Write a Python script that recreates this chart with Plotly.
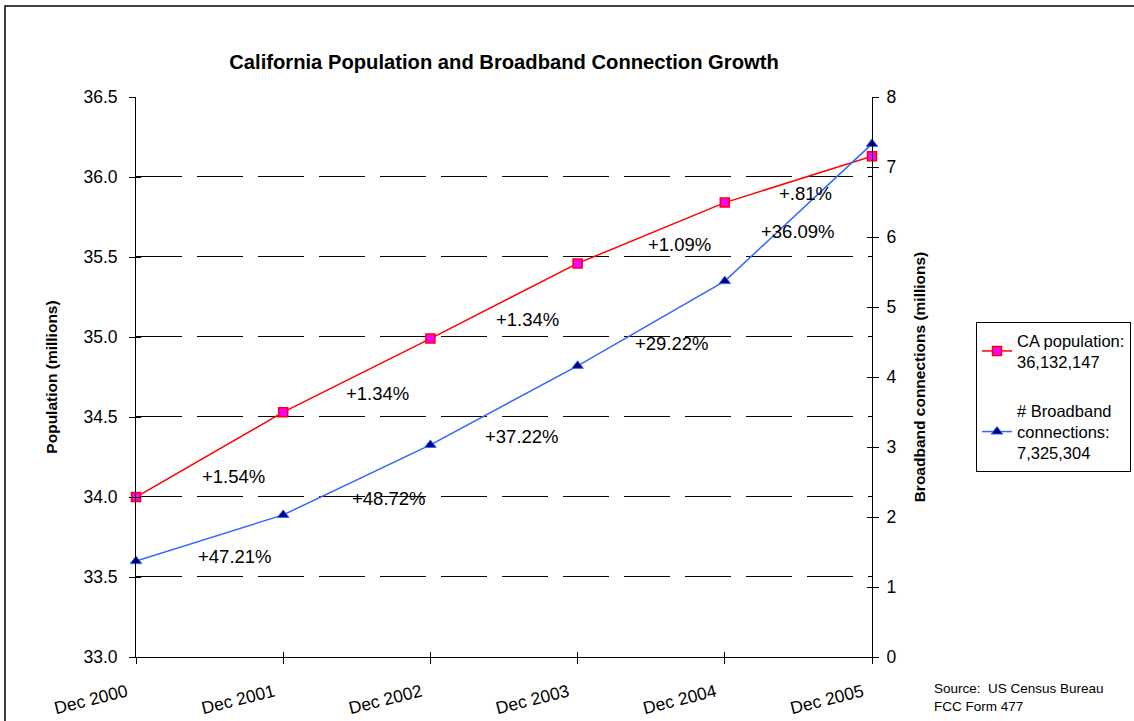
import plotly.graph_objects as go

categories = ["Dec 2000", "Dec 2001", "Dec 2002", "Dec 2003", "Dec 2004", "Dec 2005"]
population_m = [34.00, 34.53, 34.99, 35.46, 35.84, 36.13]
broadband_m = [1.37, 2.03, 3.03, 4.16, 5.37, 7.33]

pop_growth_labels = ["+1.54%", "+1.34%", "+1.34%", "+1.09%", "+.81%"]
pop_label_x = [0.66, 1.64, 2.66, 3.69, 4.55]
pop_label_y = [34.13, 34.65, 35.11, 35.58, 35.90]
bb_growth_labels = ["+47.21%", "+48.72%", "+37.22%", "+29.22%", "+36.09%"]
bb_label_x = [0.67, 1.72, 2.62, 3.64, 4.50]
bb_label_y = [33.63, 33.99, 34.38, 34.96, 35.66]

left_ticks = [33.0, 33.5, 34.0, 34.5, 35.0, 35.5, 36.0, 36.5]
grid_vals = [33.5, 34.0, 34.5, 35.0, 35.5, 36.0]
right_ticks = [0, 1, 2, 3, 4, 5, 6, 7, 8]

FONT = "Liberation Sans, Arial, sans-serif"
xs = list(range(len(categories)))
tick_text = [c + "\u00a0\u00a0" for c in categories]

fig = go.Figure()
fig.add_trace(go.Scatter(
    x=xs, y=population_m, mode="lines+markers",
    name="CA population:<br>36,132,147",
    line=dict(color="#FF0000", width=1.5),
    marker=dict(symbol="square", size=9, color="#FF00FF", line=dict(color="#FF0000", width=1.5)),
    legendgroup="a", yaxis="y", cliponaxis=False,
))
fig.add_trace(go.Scatter(
    x=xs, y=broadband_m, mode="lines+markers",
    name="# Broadband<br>connections:<br>7,325,304",
    line=dict(color="#3366FF", width=1.5),
    marker=dict(symbol="triangle-up", size=10, color="#000080", line=dict(color="#3366FF", width=1)),
    legendgroup="b", yaxis="y2", cliponaxis=False,
))
# invisible helpers so the inner tick-mark axes are drawn
fig.add_trace(go.Scatter(x=[xs[0]], y=[left_ticks[0]], xaxis="x2", yaxis="y3", mode="markers",
                         marker=dict(opacity=0), showlegend=False, hoverinfo="skip"))
fig.add_trace(go.Scatter(x=[xs[0]], y=[right_ticks[0]], xaxis="x2", yaxis="y4", mode="markers",
                         marker=dict(opacity=0), showlegend=False, hoverinfo="skip"))

annotations = []
for t, x, y in zip(pop_growth_labels + bb_growth_labels, pop_label_x + bb_label_x, pop_label_y + bb_label_y):
    annotations.append(dict(x=x, y=y, xref="x", yref="y", text=t, showarrow=False,
                            font=dict(family=FONT, size=18.5, color="black")))
annotations.append(dict(x=(932 - 136) / 736, y=(657 - 679) / 560, xref="paper", yref="paper",
                        xanchor="left", yanchor="top", align="left",
                        text="Source:  US Census Bureau<br>FCC Form 477", showarrow=False,
                        font=dict(family=FONT, size=13.5, color="black")))

shapes = []
for g in grid_vals:
    shapes.append(dict(type="line", xref="paper", yref="y", x0=0, x1=1,
                       ysizemode="pixel", yanchor=g, y0=0.5, y1=0.5,
                       line=dict(color="black", width=1, dash="46px,15px"), layer="below"))
shapes.append(dict(type="rect", xref="paper", yref="paper",
                   x0=(5 - 136) / 736, x1=(1140 - 136) / 736,
                   y0=(657 - 730) / 560, y1=(657 - 6) / 560,
                   line=dict(color="black", width=1.5), fillcolor="rgba(0,0,0,0)", layer="below"))

inner = dict(showgrid=False, zeroline=False, showline=False, showticklabels=False,
             ticks="inside", ticklen=5, tickcolor="black", automargin=False)

fig.update_layout(
    width=1134, height=721,
    margin=dict(l=136, r=262, t=97, b=64, autoexpand=False),
    paper_bgcolor="white", plot_bgcolor="white",
    font=dict(family=FONT, color="black"),
    title=dict(text="<b>California Population and Broadband Connection Growth</b>",
               x=504 / 1134, xanchor="center", xref="container",
               y=1 - 62 / 721, yanchor="middle", yref="container",
               font=dict(family=FONT, size=20.2, color="black")),
    xaxis=dict(range=[0, 5], tickvals=xs, ticktext=tick_text, tickangle=-14,
               showgrid=False, zeroline=False, showline=True, linecolor="black", linewidth=1,
               ticks="outside", ticklen=6, tickcolor="black", ticklabelstandoff=9,
               automargin=False,
               tickfont=dict(family=FONT, size=17.5, color="black")),
    xaxis2=dict(range=[0, 5], tickvals=xs, overlaying="x", side="bottom", anchor="y3", **inner),
    yaxis=dict(range=[33, 36.5], tickvals=left_ticks, tickformat=".1f",
               showgrid=False, zeroline=False, showline=True, linecolor="black", linewidth=1,
               ticks="outside", ticklen=6, tickcolor="black", ticklabelstandoff=8,
               automargin=False,
               tickfont=dict(family=FONT, size=17.5, color="black"),
               title=dict(text="<b>Population (millions)</b>", standoff=22,
                          font=dict(family=FONT, size=15.5, color="black"))),
    yaxis2=dict(range=[0, 8], tickvals=right_ticks, overlaying="y", side="right",
                showgrid=False, zeroline=False, showline=True, linecolor="black", linewidth=1,
                ticks="outside", ticklen=6, tickcolor="black", ticklabelstandoff=4,
                automargin=False,
                tickfont=dict(family=FONT, size=17.5, color="black"),
                title=dict(text="<b>Broadband connections (millions)</b>", standoff=18,
                           font=dict(family=FONT, size=15.5, color="black"))),
    yaxis3=dict(range=[33, 36.5], tickvals=grid_vals, overlaying="y", side="left", anchor="x2", **inner),
    yaxis4=dict(range=[0, 8], tickvals=right_ticks[1:-1], overlaying="y", side="right", anchor="x2", **inner),
    legend=dict(x=(976 - 136) / 736, y=(657 - 322) / 560, xanchor="left", yanchor="top",
                bordercolor="black", borderwidth=1, bgcolor="white",
                font=dict(family=FONT, size=16.5, color="black"),
                tracegroupgap=24, itemwidth=30),
    annotations=annotations,
    shapes=shapes,
    showlegend=True,
)

fig.write_html("out.html")
